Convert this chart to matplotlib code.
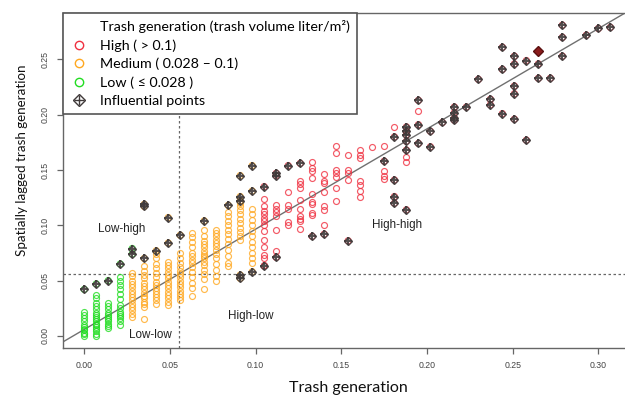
import matplotlib.pyplot as plt
from matplotlib.lines import Line2D

# columns of the Moran scatter: x value of the column and lagged y values
low_x = [0.000, 0.007, 0.014, 0.021]
low_y = [
    [0.000, 0.002, 0.003, 0.005, 0.006, 0.008, 0.010, 0.013, 0.016, 0.019, 0.022],
    [0.000, 0.002, 0.004, 0.006, 0.008, 0.010, 0.011, 0.013, 0.015, 0.017, 0.019, 0.021, 0.024, 0.027, 0.030, 0.034, 0.037],
    [0.007, 0.009, 0.011, 0.013, 0.015, 0.017, 0.019, 0.021, 0.024, 0.027, 0.030],
    [0.010, 0.013, 0.016, 0.018, 0.020, 0.022, 0.025, 0.028, 0.033, 0.038, 0.042, 0.046, 0.050, 0.053],
]

med_x = [0.028, 0.035, 0.042, 0.049, 0.056, 0.063, 0.070, 0.077, 0.084, 0.091, 0.098]
med_y = [
    [0.017, 0.020, 0.023, 0.026, 0.029, 0.032, 0.035, 0.038, 0.041, 0.044, 0.047, 0.050, 0.054, 0.057],
    [0.015, 0.026, 0.029, 0.031, 0.034, 0.036, 0.039, 0.042, 0.045, 0.048, 0.052, 0.055, 0.059, 0.063],
    [0.029, 0.032, 0.035, 0.038, 0.041, 0.043, 0.046, 0.049, 0.053, 0.057, 0.061, 0.065, 0.070, 0.074],
    [0.028, 0.031, 0.034, 0.037, 0.040, 0.043, 0.046, 0.049, 0.052, 0.055, 0.058, 0.061, 0.064, 0.067],
    [0.032, 0.035, 0.038, 0.041, 0.044, 0.047, 0.050, 0.053, 0.056, 0.059, 0.062, 0.066, 0.070, 0.075],
    [0.036, 0.043, 0.048, 0.053, 0.058, 0.062, 0.066, 0.069, 0.072, 0.075, 0.080, 0.085, 0.089, 0.093],
    [0.042, 0.051, 0.056, 0.060, 0.064, 0.067, 0.070, 0.072, 0.074, 0.077, 0.080, 0.083, 0.086, 0.090, 0.096],
    [0.050, 0.054, 0.060, 0.065, 0.070, 0.074, 0.078, 0.081, 0.084, 0.087, 0.090, 0.093, 0.096],
    [0.063, 0.066, 0.072, 0.078, 0.083, 0.088, 0.092, 0.096, 0.100, 0.104, 0.108, 0.112],
    [0.087, 0.090, 0.094, 0.098, 0.102, 0.106, 0.110, 0.114, 0.117, 0.120],
    [0.066, 0.070, 0.075, 0.080, 0.085, 0.090, 0.095, 0.100, 0.105, 0.110, 0.115],
]

high_x = [0.105, 0.112, 0.119, 0.126, 0.133, 0.140, 0.147, 0.154, 0.161, 0.168, 0.175, 0.181, 0.188, 0.195]
high_y = [
    [0.064, 0.070, 0.073, 0.080, 0.087, 0.095, 0.100, 0.104, 0.107, 0.110, 0.113, 0.117, 0.124],
    [0.077, 0.096, 0.108, 0.112, 0.115, 0.118],
    [0.100, 0.103, 0.115, 0.118, 0.130],
    [0.097, 0.104, 0.106, 0.108, 0.115, 0.123, 0.134, 0.137, 0.140],
    [0.109, 0.111, 0.119, 0.121, 0.128, 0.143, 0.149, 0.152, 0.157],
    [0.100, 0.114, 0.117, 0.130, 0.138, 0.140, 0.146],
    [0.122, 0.134, 0.144, 0.147, 0.150, 0.165, 0.172],
    [0.141, 0.147, 0.150, 0.164],
    [0.126, 0.131, 0.136, 0.140, 0.161, 0.164, 0.168],
    [0.171],
    [0.142, 0.145, 0.149, 0.172],
    [0.189],
    [0.157, 0.162],
    [0.203],
]

# influential points
infl_x = [0.000, 0.007, 0.014, 0.021, 0.028, 0.028, 0.035, 0.035, 0.035, 0.042,
          0.049, 0.049, 0.056, 0.070, 0.084, 0.091, 0.091, 0.091, 0.091, 0.091,
          0.098, 0.098, 0.098, 0.105, 0.105, 0.112, 0.112, 0.112, 0.119, 0.126,
          0.133, 0.140, 0.154, 0.175, 0.181, 0.181, 0.181, 0.181, 0.188, 0.188,
          0.188, 0.188, 0.188, 0.188, 0.195, 0.195, 0.195, 0.202, 0.202, 0.209,
          0.216, 0.216, 0.216, 0.216, 0.223, 0.230, 0.237, 0.237, 0.244, 0.244,
          0.244, 0.251, 0.251, 0.251, 0.251, 0.251, 0.258, 0.258, 0.265, 0.265,
          0.272, 0.279, 0.279, 0.279, 0.293, 0.300, 0.307]
infl_y = [0.042, 0.047, 0.050, 0.065, 0.074, 0.079, 0.070, 0.117, 0.119, 0.077,
          0.084, 0.107, 0.091, 0.104, 0.118, 0.052, 0.055, 0.122, 0.126, 0.145,
          0.058, 0.131, 0.154, 0.063, 0.135, 0.071, 0.145, 0.147, 0.154, 0.156,
          0.090, 0.092, 0.086, 0.158, 0.180, 0.141, 0.126, 0.120, 0.189, 0.185,
          0.182, 0.176, 0.168, 0.114, 0.213, 0.191, 0.174, 0.185, 0.171, 0.193,
          0.207, 0.202, 0.197, 0.195, 0.207, 0.232, 0.214, 0.209, 0.261, 0.241,
          0.201, 0.253, 0.246, 0.226, 0.219, 0.196, 0.249, 0.177, 0.246, 0.233,
          0.233, 0.281, 0.270, 0.253, 0.272, 0.278, 0.279]
top_x = [0.265]
top_y = [0.258]

slope = 0.907
intercept = 0.0058
mean_x = 0.0555
mean_y = 0.056

green = '#22dd22'
orange = '#ffa820'
red = '#f03040'
dark = '#403a3a'
axcol = '#666666'


def flatten(xs, ys):
    px, py = [], []
    for x, col in zip(xs, ys):
        px += [x] * len(col)
        py += col
    return px, py


def cat_color(x):
    if x <= 0.028:
        return green
    if x <= 0.1:
        return orange
    return red


fig = plt.figure(figsize=(6.25, 3.98), dpi=100)
ax = fig.add_axes([0.1008, 0.1256, 0.918, 0.8417])

circle = dict(ls='none', marker='o', mfc='none', ms=4.3, mew=0.85, alpha=0.8)
for xs, ys, c in [(low_x, low_y, green), (med_x, med_y, orange), (high_x, high_y, red)]:
    px, py = flatten(xs, ys)
    ax.plot(px, py, mec=c, **circle)

ax.scatter(infl_x, infl_y, s=20, facecolors='none',
           edgecolors=[cat_color(x) for x in infl_x], linewidths=0.8, alpha=0.75)
ax.plot(infl_x, infl_y, ls='none', marker='D', ms=4.4, mfc='none', mec=dark, mew=1.0, alpha=0.9)
ax.plot(infl_x, infl_y, ls='none', marker='+', ms=6.2, mec=dark, mew=1.4, alpha=0.9)
ax.plot(top_x, top_y, ls='none', marker='D', ms=4.6, mfc='#8a1c1c', mec='#5a1010', mew=1.0)

ax.axline((0, intercept), slope=slope, color='#707070', lw=1.0, zorder=1)
ax.axvline(mean_x, color=axcol, lw=0.9, ls=(0, (2, 2)), zorder=1)
ax.axhline(mean_y, color=axcol, lw=0.9, ls=(0, (2, 2)), zorder=1)

reg_font = dict(fontsize=8.4, family='Liberation Sans', color='#222222', ha='center', va='center')
ax.text(0.022, 0.0967, 'Low-high', **reg_font)
ax.text(0.0385, 0.001, 'Low-low', **reg_font)
ax.text(0.0974, 0.0184, 'High-low', **reg_font)
ax.text(0.1826, 0.1004, 'High-high', **reg_font)

ax.set_xlim(-0.0124, 0.3224)
ax.set_ylim(-0.011, 0.292)
ax.set_xticks([0.00, 0.05, 0.10, 0.15, 0.20, 0.25, 0.30])
ax.set_yticks([0.00, 0.05, 0.10, 0.15, 0.20, 0.25])
ax.set_xticklabels(['0.00', '0.05', '0.10', '0.15', '0.20', '0.25', '0.30'])
ax.set_yticklabels(['0.00', '0.05', '0.10', '0.15', '0.20', '0.25'], rotation=90, va='center')
ax.tick_params(length=4.5, width=0.9, color=axcol, labelsize=6.3, labelcolor='#444444', pad=5)
for lab in ax.get_xticklabels() + ax.get_yticklabels():
    lab.set_family('Liberation Sans')
for s in ax.spines.values():
    s.set_color(axcol)
    s.set_linewidth(1.0)

fig.text(0.558, 0.025, 'Trash generation', fontsize=11.5, family='Lato', color='#111111',
         ha='center', va='center')
fig.text(0.035, 0.598, 'Spatially lagged trash generation', fontsize=9.6, family='Lato',
         color='#111111', ha='center', va='center', rotation=90)

handles = [
    Line2D([], [], ls='none'),
    Line2D([], [], ls='none', marker='o', mfc='none', mec=red, ms=6, mew=1.0),
    Line2D([], [], ls='none', marker='o', mfc='none', mec=orange, ms=6, mew=1.0),
    Line2D([], [], ls='none', marker='o', mfc='none', mec=green, ms=6, mew=1.0),
    (Line2D([], [], ls='none', marker='D', mfc='none', mec=dark, ms=6, mew=1.0),
     Line2D([], [], ls='none', marker='+', mec=dark, ms=7, mew=1.0)),
]
labels = ['Trash generation (trash volume liter/m\u00b2)', 'High ( > 0.1)',
          'Medium ( 0.028 \u2013 0.1)', 'Low ( \u2264 0.028 )', 'Influential points']
leg = ax.legend(handles, labels, loc='upper left', bbox_to_anchor=(0, 1), borderaxespad=0,
                fancybox=False, edgecolor='#555555', framealpha=1, handlelength=1.2,
                handletextpad=0.9, borderpad=0.5, labelspacing=0.42,
                prop={'family': ['Lato', 'DejaVu Sans'], 'size': 10.3})
leg.get_frame().set_linewidth(1.2)

fig.savefig('out.png', dpi=100)
